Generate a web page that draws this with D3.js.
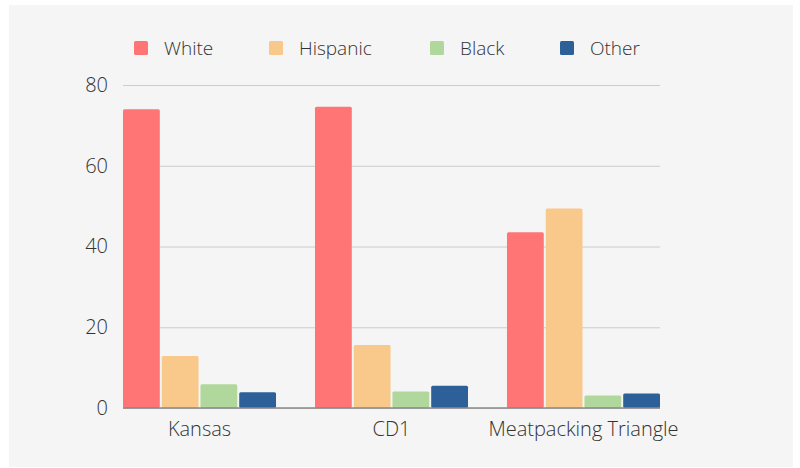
<!DOCTYPE html>
<html>
<head>
<meta charset="utf-8">
<script src="https://cdn.jsdelivr.net/npm/d3@7"></script>
<style>
  body { margin: 0; background: #fff; }
  text { font-family: 'Open Sans', sans-serif; font-weight: 300; }
</style>
</head>
<body>
<div id="graph"></div>
<script>
var regions = ['Kansas', 'CD1', 'Meatpacking Triangle']
var groups = ['White', 'Hispanic', 'Black', 'Other']
var white = [74.0, 74.6, 43.5]
var hispanic = [12.9, 15.6, 49.4]
var black = [5.9, 4.1, 3.1]
var other = [3.9, 5.5, 3.6]
var yTicks = [0, 20, 40, 60, 80]

var colors = ['#ff7575', '#f8c98b', '#b1d89c', '#2d5f99']
var series = [white, hispanic, black, other]

var width = 800, height = 468
var svg = d3.select('#graph').append('svg')
  .attr('width', width).attr('height', height)

svg.append('rect')
  .attr('x', 9).attr('y', 5)
  .attr('width', 784).attr('height', 462)
  .attr('fill', '#f5f5f5')

var margin = {left: 123, right: 140, top: 85, bottom: 60}
var x0 = d3.scaleBand()
  .domain(regions)
  .range([margin.left, 660])
  .paddingInner(0.203)
  .paddingOuter(0)

var x1 = d3.scaleBand()
  .domain(groups)
  .range([0, x0.bandwidth()])
  .paddingInner(0.05)

var y = d3.scaleLinear()
  .domain([0, 80])
  .range([408, 85])

// gridlines + y labels
var yAxis = d3.axisLeft(y).tickValues(yTicks).tickSize(-(660 - margin.left)).tickPadding(15)
var yG = svg.append('g')
  .attr('transform', `translate(${margin.left},0)`)
  .call(yAxis)
yG.select('.domain').remove()
yG.selectAll('.tick line').attr('stroke', '#cccccc')
yG.selectAll('.tick text')
  .attr('fill', '#333').attr('font-size', 20).attr('font-family', 'Open Sans')

// bars
var rows = regions.map((r, i) => ({region: r, vals: groups.map((g, j) => ({g, j, v: series[j][i]}))}))
svg.append('g').selectAll('g')
  .data(rows).join('g')
  .attr('transform', d => `translate(${x0(d.region)},0)`)
  .selectAll('rect')
  .data(d => d.vals).join('rect')
  .attr('x', d => x1(d.g))
  .attr('width', x1.bandwidth())
  .attr('y', d => y(d.v))
  .attr('height', d => y(0) - y(d.v))
  .attr('rx', 1.5)
  .attr('fill', d => colors[d.j])

// baseline
svg.append('line')
  .attr('x1', margin.left).attr('x2', 660)
  .attr('y1', y(0)).attr('y2', y(0))
  .attr('stroke', '#888').attr('stroke-width', 1.5)

// x labels
var xAxis = d3.axisBottom(x0).tickSize(0).tickPadding(14)
var xG = svg.append('g')
  .attr('transform', `translate(0,${y(0)})`)
  .call(xAxis)
xG.select('.domain').remove()
xG.selectAll('.tick text')
  .attr('fill', '#333').attr('font-size', 20).attr('font-family', 'Open Sans')

// legend
var legendX = [134, 269, 430, 560]
var leg = svg.append('g').selectAll('g')
  .data(groups).join('g')
  .attr('transform', (d, i) => `translate(${legendX[i]},41)`)
leg.append('rect')
  .attr('width', 14).attr('height', 14).attr('rx', 1.5)
  .attr('fill', (d, i) => colors[i])
leg.append('text')
  .attr('x', 30).attr('y', 14)
  .attr('fill', '#333').attr('font-size', 19)
  .text(d => d)
</script>
</body>
</html>
